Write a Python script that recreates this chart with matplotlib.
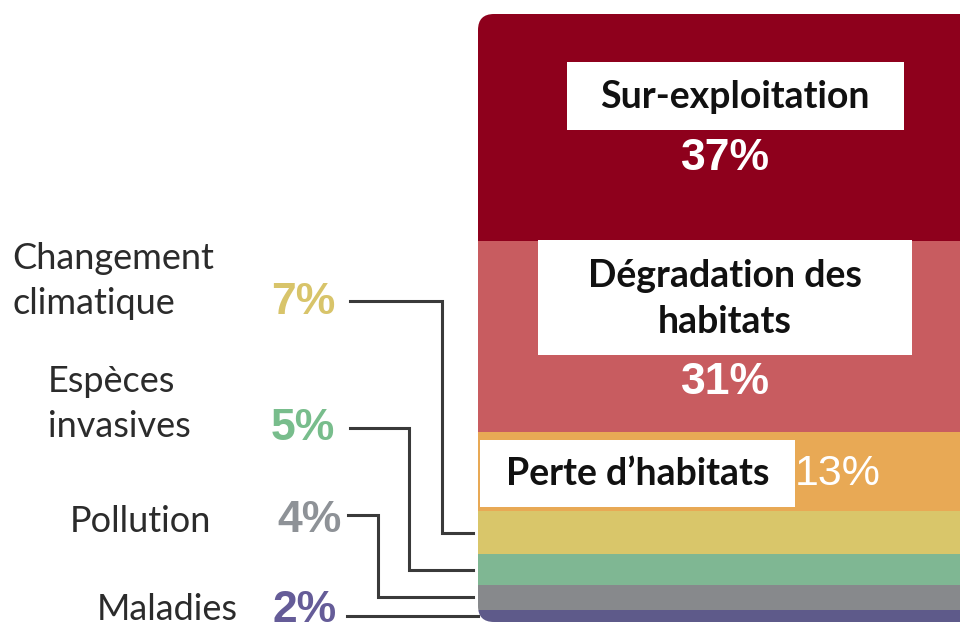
import numpy as np
import matplotlib.pyplot as plt
from matplotlib.patches import FancyBboxPatch, Rectangle

# Donnees : pressions sur la biodiversite (en %)
causes = ['Sur-exploitation', 'Dégradation des habitats', "Perte d’habitats",
          'Changement climatique', 'Espèces invasives', 'Pollution', 'Maladies']
valeurs = [37, 31, 13, 7, 5, 4, 2]
couleurs = ['#8E001C', '#C85C60', '#E8A955', '#D9C66A', '#7FB793', '#87898C', '#5E5A8A']
couleurs_txt = ['#FFFFFF', '#FFFFFF', '#FFFFFF', '#D8C46A', '#78BD8C', '#8E9297', '#655C98']

W, H = 960, 628
fig = plt.figure(figsize=(W / 100, H / 100), dpi=100)
ax = fig.add_axes([0, 0, 1, 1])
ax.axis('off')

# echelle : la barre empilee va de y=14 px a y=622 px
total = sum(valeurs)
s = 608 / total
ax.set_xlim(0, W)
ax.set_ylim(-(H - 622) / s, 622 / s)

def py(p):
    # pixel vertical -> unite de donnee
    return (622 - p) / s

# barres empilees (du bas vers le haut)
bas = np.cumsum([0] + valeurs[::-1])[:-1][::-1]
x0, largeur = 478, 600
fond = FancyBboxPatch((x0, 0), largeur, total, boxstyle='round,pad=0,rounding_size=16',
                      mutation_aspect=1 / s, transform=ax.transData,
                      facecolor='none', edgecolor='none')
ax.add_patch(fond)
barres = ax.bar([x0] * len(valeurs), valeurs, width=largeur, bottom=bas,
                align='edge', color=couleurs, linewidth=0)
for b in barres:
    b.set_clip_path(fond)

f_lab = 'Lato'
f_pct = 'Liberation Sans'

# etiquettes dans la barre
ax.add_patch(Rectangle((567, py(130)), 904 - 567, (130 - 62) / s, color='white', lw=0))
ax.text(735, py(97), causes[0], ha='center', va='center', fontsize=27,
        fontweight='bold', family=f_lab, color='#111111')
ax.text(725, py(158), f'{valeurs[0]}%', ha='center', va='center', fontsize=32,
        fontweight='bold', family=f_pct, color=couleurs_txt[0])

ax.add_patch(Rectangle((538, py(355)), 912 - 538, (355 - 240) / s, color='white', lw=0))
ax.text(725, py(299), 'Dégradation des\nhabitats', ha='center', va='center', fontsize=27,
        fontweight='bold', family=f_lab, color='#111111', linespacing=1.4)
ax.text(725, py(383), f'{valeurs[1]}%', ha='center', va='center', fontsize=32,
        fontweight='bold', family=f_pct, color=couleurs_txt[1])

ax.add_patch(Rectangle((480, py(507)), 795 - 480, (507 - 440) / s, color='white', lw=0))
ax.text(638, py(474), causes[2], ha='center', va='center', fontsize=27,
        fontweight='bold', family=f_lab, color='#111111')
ax.text(838, py(474), f'{valeurs[2]}%', ha='center', va='center', fontsize=31,
        family=f_pct, color=couleurs_txt[2])

# etiquettes a gauche avec lignes de rappel
noms = ['Changement\nclimatique', 'Espèces\ninvasives', 'Pollution', 'Maladies']
nom_x = [12, 48, 70, 97]
nom_y = [281, 404, 521, 610]
pct_x = [303, 303, 310, 305]
pct_y = [303, 428, 521, 611]
ligne_x0 = [350, 350, 348, 347]
coude_x = [442, 409, 378, None]
ligne_y = [301, 428, 515, 616]

for i in range(4):
    k = 3 + i
    ax.text(nom_x[i], py(nom_y[i]), noms[i], ha='left', va='center', fontsize=26,
            family=f_lab, color='#2B2B2B', linespacing=1.45)
    ax.text(pct_x[i], py(pct_y[i]), f'{valeurs[k]}%', ha='center', va='center',
            fontsize=32, fontweight='bold', family=f_pct, color=couleurs_txt[k])
    y_fin = bas[k] + valeurs[k] / 2
    if coude_x[i] is None:
        xs = [ligne_x0[i], x0]
        ys = [y_fin, y_fin]
    else:
        xs = [ligne_x0[i], coude_x[i], coude_x[i], 473]
        ys = [py(ligne_y[i]), py(ligne_y[i]), y_fin, y_fin]
    ax.plot(xs, ys, color='#3A3A3A', lw=2.2, solid_joinstyle='miter')

fig.savefig('out.png', dpi=100)
